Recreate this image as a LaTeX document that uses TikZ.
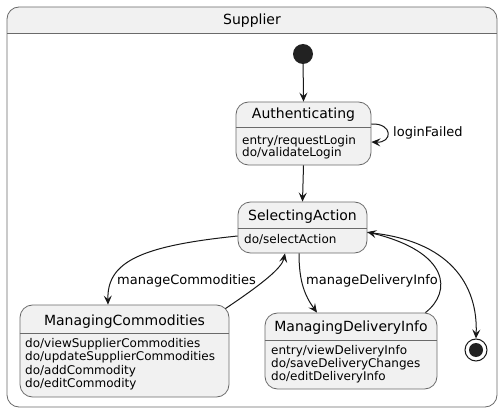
\documentclass[tikz,border=0pt]{standalone}
\usepackage{fontspec}
\setmainfont{DejaVu Sans}
\usetikzlibrary{arrows.meta,calc}
\definecolor{stfill}{HTML}{F1F1F1}
\definecolor{edgecol}{HTML}{181818}
\definecolor{framecol}{HTML}{6A6A6A}
\definecolor{dotcol}{HTML}{222222}
\begin{document}
\begin{tikzpicture}[x=1pt,y=-1pt,
  statebox/.style={draw=framecol, fill=stfill, rounded corners=12.5pt, line width=0.8pt, inner sep=0pt},
  divider/.style={draw=framecol, line width=0.8pt},
  stitle/.style={font=\fontsize{14}{16}\selectfont, anchor=base, inner sep=0pt},
  body/.style={font=\fontsize{12}{14}\selectfont, anchor=base west, inner sep=0pt},
  elabel/.style={font=\fontsize{13}{15}\selectfont, anchor=base west, inner sep=0pt},
  trans/.style={draw=edgecol, line width=1pt, -{Stealth[length=9pt,width=8pt,inset=3.5pt]}},
  plainline/.style={draw=edgecol, line width=1pt},
]
\useasboundingbox (0,0) rectangle (504,412);
\fill[white] (0,0) rectangle (504,412);

% composite state frame
\fill[stfill] (7,33) {[rounded corners=12pt] -- (7,7) -- (497,7)} -- (497,33) -- cycle;
\node[draw=framecol, line width=0.8pt, rounded corners=12pt, minimum width=490pt, minimum height=400pt, inner sep=0pt] (sup) at (252,207) {};
\draw[divider] (7,33) -- (497,33);
\node[stitle] (suptitle) at (252,25) {Supplier};

% initial / final
\node[circle, fill=dotcol, minimum size=20pt, inner sep=0pt] (init) at (303,54) {};
\node[circle, draw=edgecol, line width=1pt, fill=white, minimum size=22pt, inner sep=0pt] (final) at (476,350) {};
\fill[dotcol] (final.center) circle (7pt);

% Authenticating
\node[statebox, minimum width=135pt, minimum height=63pt] (auth) at (303.5,133.5) {};
\draw[divider] ($(auth.west)+(0,-6.5)$) -- ($(auth.east)+(0,-6.5)$);
\node[stitle] (auth-t) at (303.5,119) {Authenticating};
\node[body] (auth-1) at (242,144) {entry/requestLogin};
\node[body] (auth-2) at (242,157) {do/validateLogin};

% SelectingAction
\node[statebox, minimum width=129pt, minimum height=51pt] (sa) at (302.5,227.5) {};
\draw[divider] ($(sa.west)+(0,0.5)$) -- ($(sa.east)+(0,0.5)$);
\node[stitle] (sa-t) at (302.5,220.5) {SelectingAction};
\node[body] (sa-1) at (244,243.5) {do/selectAction};

% ManagingCommodities
\node[statebox, minimum width=209pt, minimum height=92pt] (mc) at (124.5,351) {};
\draw[divider] ($(mc.west)+(0,-18)$) -- ($(mc.east)+(0,-18)$);
\node[stitle] (mc-t) at (124.5,325) {ManagingCommodities};
\node[body] (mc-1) at (25,347.5) {do/viewSupplierCommodities};
\node[body] (mc-2) at (25,360.8) {do/updateSupplierCommodities};
\node[body] (mc-3) at (25,374) {do/addCommodity};
\node[body] (mc-4) at (25,387.2) {do/editCommodity};

% ManagingDeliveryInfo
\node[statebox, minimum width=172pt, minimum height=76pt] (mdi) at (351,351) {};
\draw[divider] ($(mdi.west)+(0,-11)$) -- ($(mdi.east)+(0,-11)$);
\node[stitle] (mdi-t) at (351,331) {ManagingDeliveryInfo};
\node[body] (mdi-1) at (271,354.5) {entry/viewDeliveryInfo};
\node[body] (mdi-2) at (271,367.7) {do/saveDeliveryChanges};
\node[body] (mdi-3) at (271,380.9) {do/editDeliveryInfo};

% transitions
\draw[trans] (init) -- (auth.north);
\draw[trans] (auth.south) -- (sa.north);
\draw[trans] ($(auth.east)+(0,-9.5)$) .. controls (393,123) and (393,143) .. ($(auth.east)+(0,8.5)$);
\node[elabel] (lf) at (393,136) {loginFailed};

\draw[trans] ($(sa.west)+(0,8.5)$) .. controls (140,246) and (107,262) .. ($(mc.north)+(-16.5,0)$);
\node[elabel] (lmc) at (117,284) {manageCommodities};

\draw[trans] ($(mc.north east)+(-4,4)$) .. controls (262,284) and (282,268) .. ($(sa.south)+(-17.5,0)$);

\draw[trans] ($(sa.south)+(-3.5,0)$) .. controls (299,282) and (305,296) .. ($(mdi.north)+(-34,0)$);
\node[elabel] (lmdi) at (306,284) {manageDeliveryInfo};

\draw[trans] ($(mdi.north east)+(-12,0)$) .. controls (452,292) and (450,252) .. ($(sa.east)+(0,4.5)$);
\draw[trans] ($(sa.east)+(0,5)$) .. controls (450,240) and (478,285) .. (final.north);
\end{tikzpicture}
\end{document}
